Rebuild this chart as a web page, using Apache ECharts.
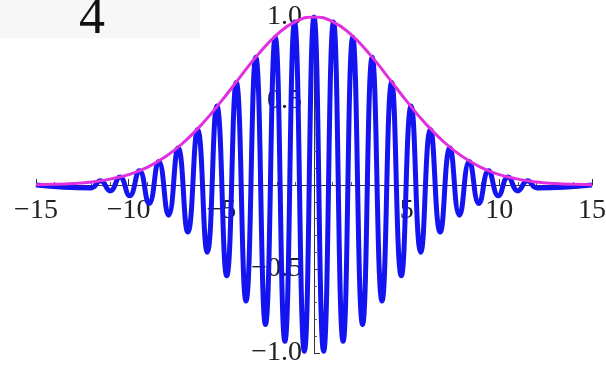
<!DOCTYPE html>
<html>
<head>
<meta charset="utf-8">
<script src="https://cdn.jsdelivr.net/npm/echarts@6/dist/echarts.min.js"></script>
<style>
  html, body { margin: 0; padding: 0; background: #fff; }
  #chart { width: 606px; height: 366px; }
</style>
</head>
<body>
<div id="chart"></div>
<script>
// wave packet: peaks/troughs
var waveX = [-15, -12.04, -11.52, -11.00, -10.47, -9.95, -9.42, -8.90, -8.38, -7.85, -7.33, -6.81, -6.28, -5.76, -5.24, -4.71, -4.19, -3.67, -3.14, -2.62, -2.09, -1.57, -1.05, -0.52,
             0, 0.52, 1.05, 1.57, 2.09, 2.62, 3.14, 3.67, 4.19, 4.71, 5.24, 5.76, 6.28, 6.81, 7.33, 7.85, 8.38, 8.90, 9.42, 9.95, 10.47, 11.00, 11.52, 12.04, 15];
var waveY = [0, -0.018, 0.025, -0.035, 0.048, -0.064, 0.085, -0.11, 0.14, -0.18, 0.22, -0.28, 0.33, -0.40, 0.47, -0.54, 0.61, -0.69, 0.76, -0.83, 0.88, -0.93, 0.97, -0.99,
             1.00, -0.99, 0.97, -0.93, 0.88, -0.83, 0.76, -0.69, 0.61, -0.54, 0.47, -0.40, 0.33, -0.28, 0.22, -0.18, 0.14, -0.11, 0.085, -0.064, 0.048, -0.035, 0.025, -0.018, 0];

// envelope (magenta)
var envX = [-15, -14, -13, -12, -11, -10, -9, -8, -7, -6, -5, -4, -3, -2, -1, 0, 1, 2, 3, 4, 5, 6, 7, 8, 9, 10, 11, 12, 13, 14, 15];
var envY = [0.002, 0.004, 0.009, 0.018, 0.035, 0.062, 0.105, 0.169, 0.257, 0.368, 0.499, 0.641, 0.779, 0.895, 0.973, 1.0,
            0.973, 0.895, 0.779, 0.641, 0.499, 0.368, 0.257, 0.169, 0.105, 0.062, 0.035, 0.018, 0.009, 0.004, 0.002];

var xTicks = [-15, -10, -5, 5, 10, 15];
var yTicks = [-1.0, -0.5, 0.5, 1.0];

function pairs(xs, ys) {
    var out = [];
    for (var i = 0; i < xs.length; i++) out.push([xs[i], ys[i]]);
    return out;
}
function minus(s) { return s.replace('-', '\u2212'); }

var chart = echarts.init(document.getElementById('chart'));
var font = '"Liberation Serif", "DejaVu Serif", serif';

// grid box: x -15..15 -> 36..592, y 1..-1 -> 17..353, so the axes cross at (314, 185)
var gridL = 36, gridR = 14, gridT = 17, gridB = 13;
var plotW = 606 - gridL - gridR, plotH = 366 - gridT - gridB;

var option = {
    animation: false,
    backgroundColor: '#fff',
    graphic: [
        { type: 'rect', left: 0, top: 0, shape: { width: 200, height: 38 }, style: { fill: '#f7f7f7' }, z: -10 },
        { type: 'text', left: 79, top: -7, style: { text: '4', fontSize: 52, fontFamily: font, fill: '#111' } }
    ],
    grid: { left: gridL, right: gridR, top: gridT, bottom: gridB, containLabel: false, outerBoundsMode: 'none' },
    xAxis: {
        type: 'value',
        min: -15, max: 15, interval: 5,
        offset: -plotH / 2,
        axisLine: { onZero: false, lineStyle: { color: '#333', width: 1 } },
        axisTick: { inside: true, length: 6, lineStyle: { color: '#333' } },
        minorTick: { show: true, splitNumber: 5, length: 3, lineStyle: { color: '#555' } },
        splitLine: { show: false },
        axisLabel: {
            margin: 12,
            color: '#222',
            fontSize: 28,
            fontFamily: font,
            showMinLabel: true, showMaxLabel: true,
            formatter: function (v) { return xTicks.indexOf(v) >= 0 ? minus(String(v)) : ''; }
        }
    },
    yAxis: {
        type: 'value',
        min: -1, max: 1, interval: 0.5,
        offset: -plotW / 2,
        axisLine: { onZero: false, lineStyle: { color: '#333', width: 1 } },
        axisTick: { inside: true, length: 6, lineStyle: { color: '#333' } },
        minorTick: { show: true, splitNumber: 5, length: 3, lineStyle: { color: '#555' } },
        splitLine: { show: false },
        axisLabel: {
            margin: 12,
            color: '#222',
            fontSize: 28,
            fontFamily: font,
            showMinLabel: true, showMaxLabel: true,
            formatter: function (v) { return yTicks.indexOf(v) >= 0 ? minus(v.toFixed(1)) : ''; }
        }
    },
    series: [
        {
            name: 'wave',
            type: 'line',
            data: pairs(waveX, waveY),
            smooth: 0.5,
            showSymbol: false,
            lineStyle: { color: '#1414f0', width: 5 },
            z: 2
        },
        {
            name: 'envelope',
            type: 'line',
            data: pairs(envX, envY),
            smooth: true,
            showSymbol: false,
            lineStyle: { color: '#e030e0', width: 3 },
            z: 3
        }
    ]
};
chart.setOption(option);
</script>
</body>
</html>
